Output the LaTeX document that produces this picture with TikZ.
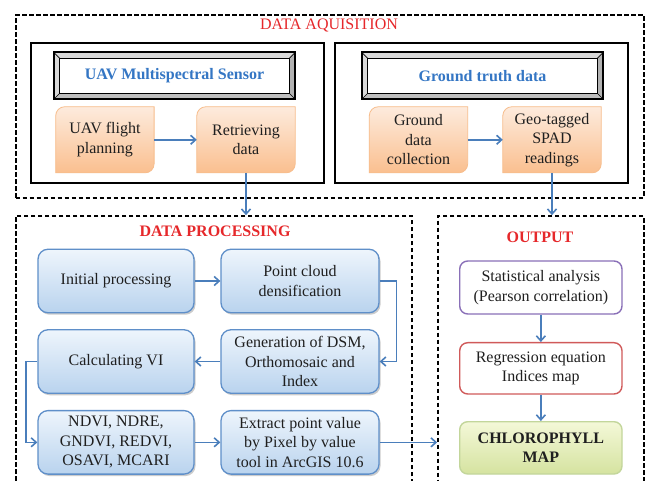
\documentclass[tikz,border=0pt]{standalone}
\usepackage{fontspec}
\setmainfont{Liberation Serif}
\usetikzlibrary{arrows.meta,shadows,backgrounds,calc}
\definecolor{txt}{HTML}{1F1F1F}
\definecolor{ttlred}{HTML}{E6282B}
\definecolor{hdrblue}{HTML}{3476C4}
\definecolor{connblue}{HTML}{4A7EBB}
\definecolor{bluedraw}{HTML}{5F8FC9}
\definecolor{bluetop}{HTML}{EEF5FC}
\definecolor{bluebot}{HTML}{B9D3EE}
\definecolor{oratop}{HTML}{FDEBDD}
\definecolor{orabot}{HTML}{FABF8F}
\definecolor{oradraw}{HTML}{F7BD8C}
\definecolor{chltop}{HTML}{F4F8D8}
\definecolor{chlbot}{HTML}{D5E3A0}
\definecolor{chldraw}{HTML}{C3D69B}
\definecolor{statdraw}{HTML}{8A70B8}
\definecolor{regdraw}{HTML}{D05A5A}
\newcommand\orshape[1]{%
  \path[draw=oradraw, line width=0.8pt, top color=oratop, bottom color=orabot]
   ([yshift=-9pt]#1.north west) arc[start angle=180,end angle=90,radius=9pt]
   -- (#1.north east) -- ([yshift=9pt]#1.south east)
   arc[start angle=0,end angle=-90,radius=9pt] -- (#1.south west) -- cycle;}
\newcommand\hdrbevel[1]{%
  \fill[gray!30] (#1.south west) rectangle (#1.north east);
  \fill[gray!60] (#1.north east) -- (#1.south east) -- ([shift={(-6pt,6pt)}]#1.south east) -- ([shift={(-6pt,-6pt)}]#1.north east) -- cycle;
  \fill[gray!50] (#1.south west) -- (#1.south east) -- ([shift={(-6pt,6pt)}]#1.south east) -- ([shift={(6pt,6pt)}]#1.south west) -- cycle;
  \draw[line width=1pt, fill=white] ([shift={(6pt,6pt)}]#1.south west) rectangle ([shift={(-6pt,-6pt)}]#1.north east);
  \draw[line width=0.6pt] (#1.north west) -- ++(6pt,-6pt) (#1.north east) -- ++(-6pt,-6pt)
    (#1.south west) -- ++(6pt,6pt) (#1.south east) -- ++(-6pt,6pt);
  \draw[line width=2pt] (#1.south west) rectangle (#1.north east);}
\begin{document}
\begin{tikzpicture}[x=1pt,y=1pt,
  base/.style={font=\fontsize{16}{19.5}\selectfont, text=txt, align=center, inner sep=0pt},
  dashbox/.style={draw=black, line width=1.7pt, dash pattern=on 4.5pt off 2.5pt, inner sep=0pt},
  solidbox/.style={draw=black, line width=1.9pt, inner sep=0pt},
  hdr/.style={base, font=\fontsize{16}{19.5}\selectfont\bfseries, text=hdrblue, minimum width=241pt, minimum height=46.3pt},
  orangebox/.style={base, minimum width=98pt, minimum height=65.7pt},
  bluebox/.style={base, rounded corners=10pt, draw=bluedraw, line width=1.3pt, top color=bluetop, bottom color=bluebot,
    drop shadow={shadow xshift=1.5pt, shadow yshift=-2pt, opacity=0.4}, minimum height=63.5pt},
  leftcol/.style={bluebox, minimum width=156pt},
  rightcol/.style={bluebox, minimum width=158pt},
  ttl/.style={font=\fontsize{16}{19.5}\selectfont, text=ttlred, inner sep=0pt},
  conn/.style={draw=connblue, line width=1.6pt, -{Straight Barb[length=5pt,width=9pt]}},
  outbox/.style={base, rounded corners=8pt, line width=1.4pt, minimum width=162.3pt}
]
\useasboundingbox (0,0) rectangle (646,480);
\begin{scope}[on background layer]
  \fill[white] (0,0) rectangle (646,480);
\end{scope}
\clip (0,0) rectangle (646,480);

% containers
\node[dashbox, minimum width=628pt, minimum height=182.9pt] (da) at (329.7,373.45) {};
\node[dashbox, minimum width=396.3pt, minimum height=284pt] (dp) at (213.85,122) {};
\node[dashbox, minimum width=205.7pt, minimum height=284pt] (out) at (540.85,122) {};
\node[solidbox, minimum width=293.3pt, minimum height=140.3pt] (lbox) at (177.35,367.15) {};
\node[solidbox, minimum width=293.3pt, minimum height=140.3pt] (rbox) at (481.35,367.15) {};

% titles
\node[ttl] (t1) at (329,454) {DATA AQUISITION};
\node[ttl, font=\fontsize{16}{19.5}\selectfont\bfseries] (t2) at (215,248.3) {DATA PROCESSING};
\node[ttl, font=\fontsize{16}{19.5}\selectfont\bfseries] (t3) at (540,242.3) {OUTPUT};

% headers
\node[hdr] (hl) at (174.5,404.2) {UAV Multispectral Sensor};
\node[hdr] (hr) at (482.5,404.2) {Ground truth data};

% orange boxes
\node[orangebox] (uav) at (104.9,340.2) {UAV flight\\planning};
\node[orangebox] (ret) at (246,340.2) {Retrieving\\data};
\node[orangebox] (gdc) at (418.5,340.2) {Ground\\data\\collection};
\node[orangebox] (geo) at (552,340.2) {Geo-tagged\\SPAD\\readings};

\begin{scope}[on background layer]
  \hdrbevel{hl}
  \hdrbevel{hr}
  \orshape{uav}
  \orshape{ret}
  \orshape{gdc}
  \orshape{geo}
\end{scope}

% blue boxes
\node[leftcol] (init) at (116,199) {Initial processing};
\node[rightcol] (pcd) at (300,199) {Point cloud\\densification};
\node[leftcol] (calc) at (116,118.5) {Calculating VI};
\node[rightcol] (gen) at (300,118.5) {Generation of DSM,\\Orthomosaic and\\Index};
\node[leftcol] (ndvi) at (116,37.65) {NDVI, NDRE,\\GNDVI, REDVI,\\OSAVI, MCARI};
\node[rightcol] (ext) at (300,37.65) {Extract point value\\by Pixel by value\\tool in ArcGIS 10.6};

% output boxes
\node[outbox, draw=statdraw, fill=white, minimum height=53pt] (stat) at (540.85,192.5) {Statistical analysis\\(Pearson correlation)};
\node[outbox, draw=regdraw, fill=white, minimum height=51.3pt] (reg) at (540.85,111.65) {Regression equation\\Indices map};
\node[outbox, draw=chldraw, top color=chltop, bottom color=chlbot, minimum height=52.3pt,
  font=\fontsize{16}{19.5}\selectfont\bfseries] (chl) at (540.85,32.15) {CHLOROPHYLL\\MAP};

% connectors
\draw[conn] (uav) -- (ret);
\draw[conn] (gdc) -- (geo);
\draw[conn] (ret.south) -- (ret.south |- dp.north);
\draw[conn] (geo.south) -- (geo.south |- out.north);
\draw[conn] (init) -- (pcd);
\draw[conn] (pcd.east) -- ++(16.7,0) |- (gen.east);
\draw[conn] (gen) -- (calc);
\draw[conn] (calc.west) -- ++(-11.3,0) |- (ndvi.west);
\draw[conn] (ndvi) -- (ext);
\draw[conn] (ext.east) -- (ext.east -| out.west);
\draw[conn] (stat) -- (reg);
\draw[conn] (reg) -- (chl);
\end{tikzpicture}
\end{document}
